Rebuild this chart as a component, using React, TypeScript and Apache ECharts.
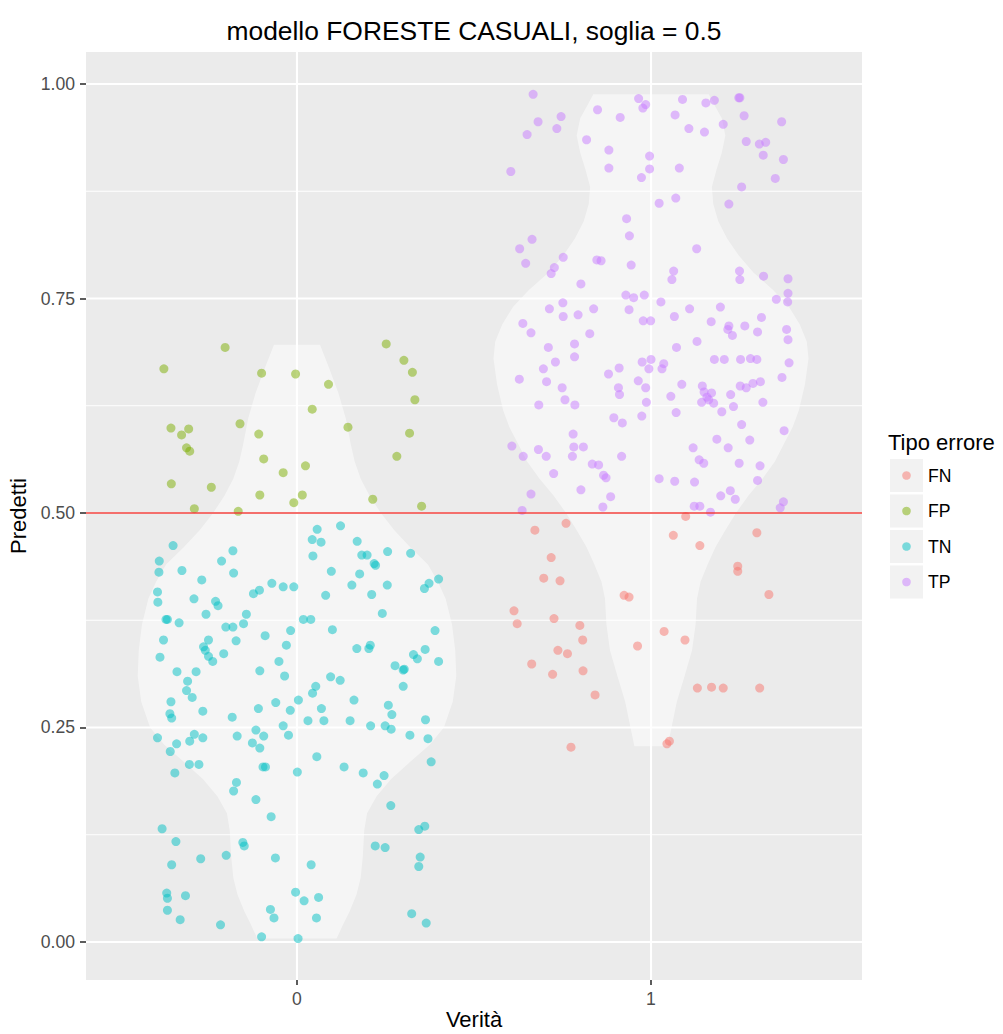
import React, { useEffect, useRef } from "react";
import * as echarts from "echarts";

// ---------- data ----------
const chartTitle = "modello FORESTE CASUALI, soglia = 0.5";
const xAxisTitle = "Verità";
const yAxisTitle = "Predetti";
const legendTitle = "Tipo errore";
const categories = ["FN", "FP", "TN", "TP"];
const categoryColors = ["#F8766D", "#7CAE00", "#00BFC4", "#C77CFF"];
const truthOfCategory = [1, 0, 0, 1];
const xTickValues = [0, 1];
const yTickValues = [0, 0.25, 0.5, 0.75, 1];
const yMinorValues = [0.125, 0.375, 0.625, 0.875];
const threshold = 0.5;

// [jitter around truth, predicted]
const fnPoints = [
  [0.098, 0.496], [-0.24, 0.488], [-0.328, 0.48], [0.063, 0.474], [0.138, 0.462], [0.299, 0.477],
  [-0.282, 0.448], [0.245, 0.438], [0.245, 0.432], [-0.303, 0.424], [-0.257, 0.421], [0.333, 0.405],
  [-0.076, 0.404], [-0.062, 0.402], [-0.387, 0.386], [-0.378, 0.371], [-0.274, 0.377], [-0.201, 0.369],
  [-0.193, 0.352], [0.037, 0.362], [0.096, 0.352], [-0.038, 0.345], [-0.263, 0.34], [-0.236, 0.336],
  [-0.337, 0.324], [-0.278, 0.312], [-0.192, 0.316], [-0.158, 0.288], [0.131, 0.296], [0.171, 0.297],
  [0.204, 0.296], [0.307, 0.296], [-0.226, 0.227], [0.045, 0.231], [0.052, 0.234],
];

const fpPoints = [
  [-0.203, 0.693], [-0.376, 0.668], [-0.1, 0.663], [-0.004, 0.662], [0.089, 0.65], [0.043, 0.621],
  [0.252, 0.697], [0.302, 0.678], [0.326, 0.664], [0.333, 0.632], [0.318, 0.593], [0.282, 0.566],
  [0.352, 0.508], [0.214, 0.516], [0.144, 0.6], [-0.356, 0.599], [-0.326, 0.591], [-0.306, 0.598],
  [-0.161, 0.604], [-0.108, 0.592], [-0.312, 0.576], [-0.303, 0.572], [-0.094, 0.563], [0.024, 0.555],
  [-0.039, 0.547], [-0.355, 0.534], [-0.242, 0.53], [-0.105, 0.521], [0.015, 0.521], [-0.009, 0.512],
  [-0.29, 0.505], [-0.166, 0.502],
];

const tnPoints = [
  [0.057, 0.481], [0.123, 0.485],
  [-0.35, 0.462], [-0.181, 0.456], [-0.389, 0.444], [-0.213, 0.444], [-0.39, 0.431], [-0.325, 0.433],
  [-0.179, 0.43], [-0.269, 0.422], [-0.394, 0.408], [-0.393, 0.396], [-0.291, 0.4], [-0.23, 0.397],
  [-0.223, 0.392], [-0.123, 0.406], [-0.106, 0.41], [-0.071, 0.418], [-0.039, 0.414], [-0.009, 0.414],
  [-0.257, 0.382], [-0.37, 0.376], [-0.366, 0.376], [-0.333, 0.372], [-0.143, 0.382], [-0.151, 0.371],
  [-0.201, 0.367], [-0.181, 0.367], [-0.377, 0.352], [-0.25, 0.352], [-0.172, 0.351], [-0.09, 0.357],
  [-0.018, 0.363], [-0.264, 0.344], [-0.259, 0.34], [-0.25, 0.333], [-0.238, 0.327], [-0.207, 0.336],
  [-0.387, 0.332], [-0.03, 0.346], [-0.051, 0.327], [-0.105, 0.316], [-0.035, 0.31], [-0.339, 0.315],
  [-0.285, 0.315], [-0.309, 0.304], [-0.312, 0.293], [-0.296, 0.285], [-0.356, 0.28], [-0.359, 0.266],
  [-0.354, 0.261], [-0.266, 0.269], [-0.183, 0.262], [-0.109, 0.272], [-0.06, 0.279], [-0.019, 0.27],
  [0.004, 0.282],
  [0.043, 0.469], [0.068, 0.466], [0.045, 0.45], [0.17, 0.467], [0.183, 0.451], [0.198, 0.451],
  [0.256, 0.455], [0.321, 0.453], [0.218, 0.441], [0.222, 0.439], [0.097, 0.432], [0.177, 0.429],
  [0.155, 0.416], [0.255, 0.416], [0.211, 0.405], [0.081, 0.404], [0.4, 0.423], [0.373, 0.418],
  [0.36, 0.412], [0.241, 0.383], [0.018, 0.376], [0.039, 0.376], [0.1, 0.364], [0.39, 0.363],
  [0.169, 0.342], [0.203, 0.342], [0.207, 0.346], [0.362, 0.341], [0.329, 0.335], [0.34, 0.33],
  [0.4, 0.327], [0.277, 0.322], [0.3, 0.317], [0.303, 0.318], [0.095, 0.309], [0.122, 0.305],
  [0.053, 0.298], [0.044, 0.29], [0.3, 0.298], [0.161, 0.282], [0.069, 0.272], [0.258, 0.276],
  [0.268, 0.265], [0.031, 0.258], [0.076, 0.258], [0.15, 0.258], [0.363, 0.259], [0.208, 0.252],
  [0.249, 0.252], [0.266, 0.248], [-0.039, 0.252],
  [-0.394, 0.238], [-0.29, 0.242], [-0.266, 0.238], [-0.303, 0.234], [-0.34, 0.231], [-0.358, 0.222],
  [-0.169, 0.24], [-0.116, 0.247], [-0.094, 0.24], [-0.024, 0.241], [-0.126, 0.232], [-0.105, 0.226],
  [0.319, 0.241], [0.37, 0.237], [-0.304, 0.207], [-0.277, 0.207], [-0.345, 0.197], [-0.096, 0.204],
  [-0.089, 0.204], [0.056, 0.216], [0.001, 0.198], [0.133, 0.204], [0.187, 0.197], [0.246, 0.194],
  [0.227, 0.184], [0.379, 0.21], [-0.171, 0.186], [-0.179, 0.176], [-0.116, 0.166], [-0.073, 0.146],
  [0.265, 0.159], [-0.381, 0.132], [0.361, 0.135], [0.344, 0.131], [-0.342, 0.117], [-0.153, 0.116],
  [-0.149, 0.112], [-0.2, 0.101], [-0.272, 0.097], [-0.354, 0.09], [-0.061, 0.098], [0.04, 0.09],
  [0.221, 0.112], [0.249, 0.11], [0.348, 0.099], [0.344, 0.088], [-0.368, 0.057], [-0.366, 0.051],
  [-0.315, 0.054], [-0.366, 0.037], [-0.33, 0.026], [-0.216, 0.02], [-0.004, 0.058], [0.02, 0.048],
  [0.061, 0.052], [-0.075, 0.038], [-0.065, 0.028], [0.055, 0.028], [0.324, 0.033], [0.365, 0.022],
  [-0.1, 0.006], [0.003, 0.004],
];

const tpPoints = [
  [-0.333, 0.988], [-0.035, 0.983], [-0.015, 0.976], [-0.023, 0.972], [0.089, 0.982], [0.155, 0.978],
  [0.179, 0.981], [0.248, 0.984], [0.251, 0.984], [0.263, 0.963], [0.369, 0.956], [-0.254, 0.962],
  [-0.319, 0.956], [-0.266, 0.948], [-0.35, 0.941], [-0.151, 0.97], [-0.087, 0.961], [0.068, 0.964],
  [0.107, 0.948], [0.151, 0.944], [0.204, 0.953], [0.269, 0.933], [0.306, 0.93], [0.324, 0.932],
  [0.317, 0.917], [0.374, 0.912], [-0.182, 0.935], [-0.119, 0.923], [-0.004, 0.916], [-0.119, 0.902],
  [-0.004, 0.901], [0.08, 0.902], [-0.027, 0.891], [-0.396, 0.898], [0.351, 0.89], [0.256, 0.88],
  [0.023, 0.861], [0.07, 0.867], [0.22, 0.86], [-0.069, 0.843], [-0.061, 0.823], [-0.336, 0.819],
  [-0.371, 0.808], [-0.354, 0.791], [0.129, 0.808], [-0.248, 0.798], [-0.273, 0.786], [-0.282, 0.779],
  [-0.153, 0.795], [-0.141, 0.794], [-0.056, 0.789], [0.064, 0.782], [0.059, 0.772], [0.25, 0.782],
  [0.251, 0.772], [0.318, 0.776], [0.387, 0.773], [-0.198, 0.767], [0.387, 0.756], [0.386, 0.746],
  [0.354, 0.749], [-0.071, 0.754], [-0.049, 0.751], [-0.019, 0.754], [0.028, 0.746], [-0.249, 0.745],
  [-0.287, 0.738], [-0.162, 0.738], [-0.062, 0.737], [0.109, 0.738], [0.196, 0.74],
  [-0.248, 0.729], [-0.206, 0.731], [-0.362, 0.721], [-0.339, 0.71], [-0.173, 0.709], [-0.022, 0.724],
  [-0.001, 0.724], [0.066, 0.729], [0.17, 0.723], [0.22, 0.718], [0.217, 0.714], [0.23, 0.707],
  [0.265, 0.718], [0.312, 0.728], [0.301, 0.711], [0.383, 0.714], [0.387, 0.702], [0.13, 0.7],
  [0.072, 0.693], [-0.29, 0.693], [-0.216, 0.697], [-0.216, 0.682], [-0.27, 0.676], [-0.304, 0.668],
  [-0.372, 0.656], [-0.295, 0.653], [-0.251, 0.646], [-0.243, 0.632], [-0.317, 0.626], [-0.215, 0.626],
  [-0.12, 0.662], [-0.09, 0.669], [-0.025, 0.676], [0.0, 0.679], [-0.006, 0.668], [0.036, 0.674],
  [0.031, 0.668], [-0.036, 0.654], [-0.015, 0.646], [-0.092, 0.646], [-0.089, 0.638], [-0.013, 0.629],
  [0.056, 0.636], [0.087, 0.65], [0.179, 0.679], [0.207, 0.679], [0.253, 0.679], [0.281, 0.68],
  [0.299, 0.679], [0.39, 0.675], [0.37, 0.658], [0.252, 0.648], [0.269, 0.646], [0.288, 0.651],
  [0.309, 0.653], [0.145, 0.648], [0.15, 0.641], [0.171, 0.64], [0.158, 0.635], [0.163, 0.632],
  [0.143, 0.629], [0.177, 0.628], [0.225, 0.638], [0.316, 0.629], [0.233, 0.624], [0.2, 0.618],
  [0.071, 0.617], [-0.026, 0.613], [-0.105, 0.611], [-0.081, 0.605], [0.256, 0.603], [0.376, 0.596],
  [-0.22, 0.592], [0.186, 0.586], [0.279, 0.585], [-0.393, 0.578], [-0.218, 0.577], [-0.191, 0.577],
  [-0.318, 0.574], [0.119, 0.576], [0.218, 0.576], [-0.361, 0.566], [-0.296, 0.566], [-0.222, 0.566],
  [-0.083, 0.566], [0.136, 0.562], [0.149, 0.558], [-0.166, 0.557], [-0.148, 0.556], [0.249, 0.558],
  [0.308, 0.555], [-0.275, 0.546], [-0.134, 0.544], [-0.127, 0.541], [0.023, 0.54], [0.067, 0.537],
  [0.123, 0.536], [0.301, 0.538], [-0.198, 0.527], [-0.339, 0.522], [-0.114, 0.519], [0.197, 0.52],
  [0.224, 0.526], [0.238, 0.516], [0.374, 0.513], [0.365, 0.506], [0.122, 0.508], [0.138, 0.508],
  [-0.136, 0.507], [-0.364, 0.503], [0.168, 0.501],
];

const pointsByCategory = [fnPoints, fpPoints, tnPoints, tpPoints];

// violin density profiles: [predicted, half width]
const violinTruth = [0, 1];
const violin0 = [
  [0.004, 0.112], [0.02, 0.13], [0.035, 0.148], [0.055, 0.168], [0.075, 0.18], [0.1, 0.186],
  [0.13, 0.19], [0.15, 0.198], [0.17, 0.225], [0.19, 0.266], [0.21, 0.32], [0.23, 0.375],
  [0.25, 0.415], [0.28, 0.44], [0.31, 0.45], [0.34, 0.447], [0.37, 0.438], [0.4, 0.42],
  [0.42, 0.398], [0.44, 0.37], [0.46, 0.32], [0.48, 0.275], [0.5, 0.237], [0.52, 0.205],
  [0.54, 0.18], [0.56, 0.163], [0.58, 0.152], [0.61, 0.138], [0.64, 0.117], [0.67, 0.09],
  [0.696, 0.065],
];
const violin1 = [
  [0.228, 0.047], [0.25, 0.058], [0.28, 0.073], [0.31, 0.095], [0.34, 0.116], [0.37, 0.126],
  [0.4, 0.13], [0.42, 0.14], [0.44, 0.16], [0.46, 0.182], [0.48, 0.21], [0.5, 0.24],
  [0.52, 0.275], [0.54, 0.315], [0.56, 0.35], [0.58, 0.375], [0.6, 0.4], [0.62, 0.418],
  [0.65, 0.435], [0.68, 0.445], [0.7, 0.44], [0.72, 0.42], [0.74, 0.39], [0.76, 0.345],
  [0.78, 0.29], [0.8, 0.248], [0.82, 0.215], [0.84, 0.19], [0.86, 0.176], [0.88, 0.172],
  [0.9, 0.185], [0.92, 0.2], [0.94, 0.21], [0.96, 0.2], [0.975, 0.18], [0.988, 0.163],
];
const violinProfiles = [violin0, violin1];

// ---------- chart ----------
const FONT = "'Liberation Sans', Arial, Helvetica, sans-serif";

export default function App() {
  const ref = useRef<HTMLDivElement>(null);

  useEffect(() => {
    if (!ref.current) return;
    const chart = echarts.init(ref.current, null, { renderer: "svg" });

    const gridSeries = {
      type: "custom",
      silent: true,
      z: 1,
      data: [[0, 0]],
      renderItem: (params: any, api: any) => {
        const cs = params.coordSys;
        const children: any[] = [];
        yMinorValues.forEach((v) => {
          const y = api.coord([0, v])[1];
          children.push({ type: "line", shape: { x1: cs.x, y1: y, x2: cs.x + cs.width, y2: y }, style: { stroke: "#FFFFFF", lineWidth: 1 } });
        });
        yTickValues.forEach((v) => {
          const y = api.coord([0, v])[1];
          children.push({ type: "line", shape: { x1: cs.x, y1: y, x2: cs.x + cs.width, y2: y }, style: { stroke: "#FFFFFF", lineWidth: 2.1 } });
        });
        xTickValues.forEach((v) => {
          const x = api.coord([v, 0])[0];
          children.push({ type: "line", shape: { x1: x, y1: cs.y, x2: x, y2: cs.y + cs.height }, style: { stroke: "#FFFFFF", lineWidth: 2.1 } });
        });
        return { type: "group", children };
      },
    };

    const violinSeries = {
      type: "custom",
      silent: true,
      z: 2,
      data: violinTruth.map((t, i) => [t, i]),
      renderItem: (params: any, api: any) => {
        const truth = api.value(0);
        const prof = violinProfiles[api.value(1)];
        const right = prof.map(([p, w]) => api.coord([truth + w, p]));
        const left = prof.slice().reverse().map(([p, w]) => api.coord([truth - w, p]));
        return {
          type: "polygon",
          shape: { points: right.concat(left) },
          style: { fill: "rgba(255,255,255,0.5)", stroke: "none" },
        };
      },
    };

    const scatterSeries = categories.map((name, i) => ({
      type: "scatter",
      name,
      z: 3,
      symbol: "circle",
      symbolSize: 9,
      itemStyle: { color: categoryColors[i], opacity: 0.5 },
      data: pointsByCategory[i].map(([j, p]) => [truthOfCategory[i] + j, p]),
    }));

    const thresholdSeries = {
      type: "custom",
      silent: true,
      z: 4,
      data: [[0, threshold]],
      renderItem: (params: any, api: any) => {
        const cs = params.coordSys;
        const y = api.coord([0, api.value(1)])[1];
        return { type: "line", shape: { x1: cs.x, y1: y, x2: cs.x + cs.width, y2: y }, style: { stroke: "rgba(240,50,45,0.7)", lineWidth: 1.8 } };
      },
    };

    const legendX = 890;
    const legendTop = 459;
    const keyStep = 35.5;
    const keySize = 33;
    const legendChildren: any[] = [
      { type: "text", x: 888, y: 442, style: { text: legendTitle, fontSize: 22, fontFamily: FONT, fill: "#000000", align: "left", verticalAlign: "middle" } },
    ];
    categories.forEach((name, i) => {
      const top = legendTop + i * keyStep;
      legendChildren.push({ type: "rect", shape: { x: legendX, y: top, width: keySize, height: keySize }, style: { fill: "#F2F2F2" } });
      legendChildren.push({ type: "circle", shape: { cx: legendX + keySize / 2, cy: top + keySize / 2, r: 4.3 }, style: { fill: categoryColors[i], opacity: 0.5 } });
      legendChildren.push({ type: "text", x: 928, y: top + keySize / 2, style: { text: name, fontSize: 17.6, fontFamily: FONT, fill: "#000000", align: "left", verticalAlign: "middle" } });
    });

    const option: any = {
      animation: false,
      backgroundColor: "#FFFFFF",
      textStyle: { fontFamily: FONT },
      grid: { left: 86, top: 52, width: 776, height: 928, show: true, backgroundColor: "#EBEBEB", borderWidth: 0, containLabel: false, outerBoundsMode: "none" },
      xAxis: {
        type: "value",
        min: -0.596,
        max: 1.596,
        axisLine: { show: false, onZero: false },
        splitLine: { show: false },
        minorTick: { show: false },
        axisTick: { show: true, length: 5, lineStyle: { color: "#333333", width: 1.6 }, customValues: xTickValues },
        axisLabel: { customValues: xTickValues, formatter: (v: number) => String(v), fontSize: 17.6, color: "#4D4D4D", margin: 10, fontFamily: FONT },
      },
      yAxis: {
        type: "value",
        min: -0.0443,
        max: 1.0373,
        axisLine: { show: false, onZero: false },
        splitLine: { show: false },
        minorTick: { show: false },
        axisTick: { show: true, length: 6, lineStyle: { color: "#333333", width: 1.6 }, customValues: yTickValues },
        axisLabel: { customValues: yTickValues, formatter: (v: number) => v.toFixed(2), fontSize: 17.6, color: "#4D4D4D", margin: 11, fontFamily: FONT },
        name: yAxisTitle,
        nameLocation: "middle",
        nameRotate: 90,
        nameGap: 47,
        nameTextStyle: { fontSize: 22, color: "#000000", fontFamily: FONT },
      },
      graphic: [
        { type: "text", x: 474, y: 31, style: { text: chartTitle, fontSize: 26.4, fontFamily: FONT, fill: "#000000", align: "center", verticalAlign: "middle" } },
        { type: "text", x: 474, y: 1019, style: { text: xAxisTitle, fontSize: 22, lineHeight: 22, fontFamily: FONT, fill: "#000000", align: "center", verticalAlign: "middle" } },
        { type: "group", children: legendChildren },
      ],
      series: [gridSeries, violinSeries, ...scatterSeries, thresholdSeries],
    };

    chart.setOption(option);
    return () => chart.dispose();
  }, []);

  return <div ref={ref} style={{ position: "absolute", left: 0, top: 0, width: 1003, height: 1034 }} />;
}
